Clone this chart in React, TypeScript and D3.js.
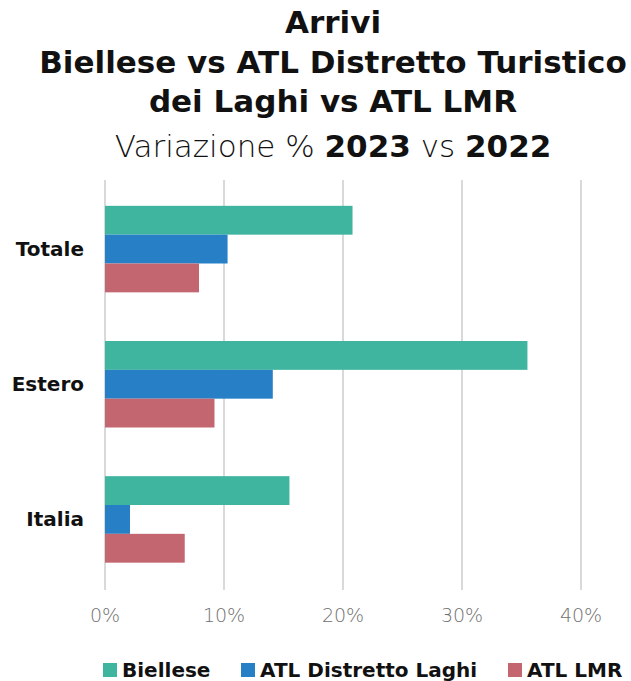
import React, { useEffect, useRef } from "react";
import * as d3 from "d3";

const categories = ["Totale", "Estero", "Italia"];
const seriesNames = ["Biellese", "ATL Distretto Laghi", "ATL LMR"];
const biellese = [20.8, 35.5, 15.5];
const atlLaghi = [10.3, 14.1, 2.1];
const atlLmr = [7.9, 9.2, 6.7];
const xTicks = [0, 10, 20, 30, 40];
const seriesColors = ["#3fb59f", "#2780c6", "#c3666f"];

const W = 631;
const H = 681;
const FONT = "'DejaVu Sans', sans-serif";

const App: React.FC = () => {
  const svgRef = useRef<SVGSVGElement>(null);

  useEffect(() => {
    if (!svgRef.current) return;
    const svg = d3.select(svgRef.current);
    svg.selectAll("*").remove();

    svg.append("rect").attr("width", W).attr("height", H).attr("fill", "#fff");

    // Title
    const title = svg.append("g")
      .attr("text-anchor", "middle")
      .attr("font-family", FONT)
      .attr("fill", "#111");
    const titleLines = ["Arrivi", "Biellese vs ATL Distretto Turistico", "dei Laghi vs ATL LMR"];
    const titleY = [33, 73, 112];
    titleLines.forEach((t, i) => {
      title.append("text")
        .attr("x", 333)
        .attr("y", titleY[i])
        .attr("font-size", 31)
        .attr("font-weight", 700)
        .text(t);
    });
    const sub = title.append("text").attr("x", 333).attr("y", 157).attr("font-size", 31);
    sub.append("tspan").attr("font-weight", 200).text("Variazione % ");
    sub.append("tspan").attr("font-weight", 700).text("2023");
    sub.append("tspan").attr("font-weight", 200).text(" vs ");
    sub.append("tspan").attr("font-weight", 700).text("2022");

    // Scales
    const x = d3.scaleLinear().domain([0, 40]).range([105, 581]);
    const y0 = d3.scaleBand<string>()
      .domain(categories)
      .range([181.5, 587])
      .paddingInner(0.36)
      .paddingOuter(0.18);
    const y1 = d3.scaleBand<string>()
      .domain(seriesNames)
      .range([0, y0.bandwidth()]);

    // Grid
    svg.append("g")
      .selectAll("line")
      .data(xTicks)
      .join("line")
      .attr("x1", d => x(d))
      .attr("x2", d => x(d))
      .attr("y1", 180)
      .attr("y2", 590)
      .attr("stroke", "#d9d9d9")
      .attr("stroke-width", 2);

    // Bars
    const values = [biellese, atlLaghi, atlLmr];
    categories.forEach((cat, ci) => {
      const g = svg.append("g").attr("transform", `translate(0,${y0(cat)})`);
      seriesNames.forEach((s, si) => {
        g.append("rect")
          .attr("x", x(0))
          .attr("y", y1(s)!)
          .attr("width", x(values[si][ci]) - x(0))
          .attr("height", y1.bandwidth())
          .attr("fill", seriesColors[si]);
      });
    });

    // Category labels
    svg.append("g")
      .selectAll("text")
      .data(categories)
      .join("text")
      .attr("x", 84)
      .attr("y", d => y0(d)! + y0.bandwidth() / 2)
      .attr("dy", "0.33em")
      .attr("text-anchor", "end")
      .attr("font-family", FONT)
      .attr("font-size", 20)
      .attr("font-weight", 700)
      .attr("fill", "#111")
      .text(d => d);

    // X tick labels
    svg.append("g")
      .selectAll("text")
      .data(xTicks)
      .join("text")
      .attr("x", d => x(d))
      .attr("y", 622)
      .attr("text-anchor", "middle")
      .attr("font-family", FONT)
      .attr("font-size", 19)
      .attr("font-weight", 200)
      .attr("fill", "#6f6f6f")
      .text(d => `${d}%`);

    // Legend
    const legendX = [103, 241, 508];
    const legend = svg.append("g");
    seriesNames.forEach((s, i) => {
      legend.append("rect")
        .attr("x", legendX[i])
        .attr("y", 663)
        .attr("width", 14)
        .attr("height", 14)
        .attr("fill", seriesColors[i]);
      legend.append("text")
        .attr("x", legendX[i] + 19)
        .attr("y", 677)
        .attr("font-family", FONT)
        .attr("font-size", 20)
        .attr("font-weight", 700)
        .attr("fill", "#111")
        .text(s);
    });
  }, []);

  return (
    <svg
      ref={svgRef}
      width={W}
      height={H}
      style={{ position: "absolute", left: 0, top: 0, display: "block" }}
    />
  );
};

export default App;
